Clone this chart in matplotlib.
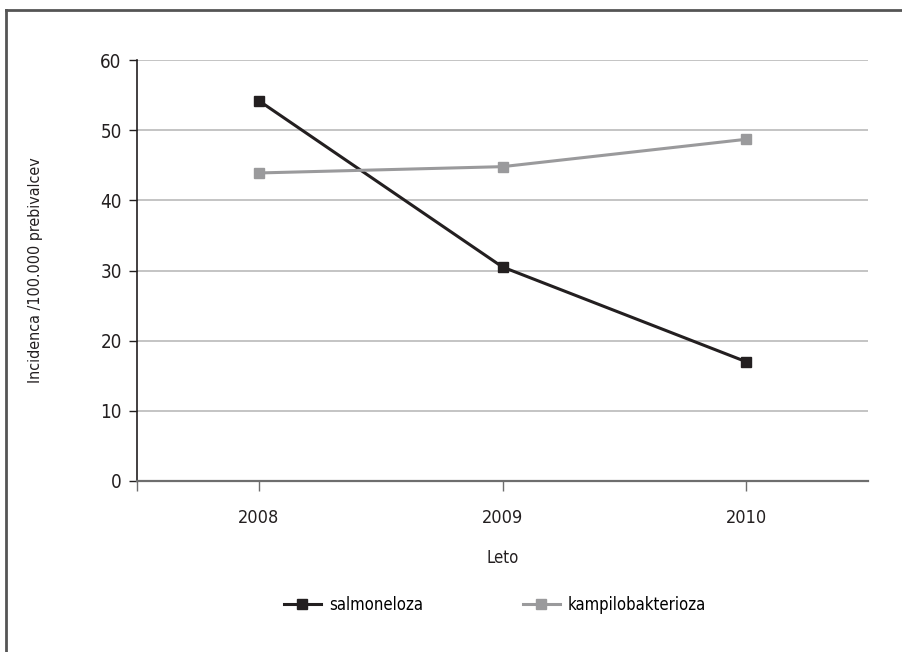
import matplotlib

matplotlib.use("Agg")
import matplotlib.pyplot as plt
from matplotlib.lines import Line2D

plt.rcParams["font.family"] = ["DejaVu Sans"]
plt.rcParams["font.stretch"] = "condensed"

years = ["2008", "2009", "2010"]
salmoneloza = [54.2, 30.5, 17.0]
kampilobakterioza = [43.9, 44.8, 48.7]
y_ticks = [0, 10, 20, 30, 40, 50, 60]

W, H = 902, 652
fig = plt.figure(figsize=(W / 100, H / 100), dpi=100)
ax = fig.add_axes([137 / W, (H - 481) / H, (868 - 137) / W, (481 - 60) / H])

x = list(range(len(years)))
ax.plot(x, salmoneloza, color="#231f20", linewidth=2.2, marker="s",
        markersize=7.5, label="salmoneloza", zorder=3)
ax.plot(x, kampilobakterioza, color="#9a9a9c", linewidth=2.2, marker="s",
        markersize=7.5, label="kampilobakterioza", zorder=3)

ax.set_xlim(-0.5, len(years) - 0.5)
ax.set_ylim(0, 60)
ax.set_yticks(y_ticks)
ax.set_xticks(x)
ax.set_xticklabels(years)
ax.set_xticks([-0.5], minor=True)
ax.grid(axis="y", color="#c4c4c4", linewidth=1.4)
ax.set_axisbelow(True)

for side in ("top", "right"):
    ax.spines[side].set_visible(False)
ax.spines["left"].set_color("#231f20")
ax.spines["left"].set_linewidth(1.2)
ax.spines["bottom"].set_color("#6e6e6e")
ax.spines["bottom"].set_linewidth(1.6)

ax.tick_params(axis="y", direction="out", length=6, width=1.0, color="#231f20",
               labelsize=13.5, pad=5, labelcolor="#231f20")
ax.tick_params(axis="x", which="both", direction="out", length=7, width=1.0,
               color="#6e6e6e", labelsize=13, pad=13, labelcolor="#231f20")

ax.set_xlabel("Leto", fontsize=12, color="#231f20", labelpad=16)
ax.set_ylabel("Incidenca /100.000 prebivalcev", fontsize=11.5, color="#231f20", labelpad=41)

handles = [
    Line2D([], [], color="#231f20", linewidth=2.2, marker="s", markersize=7),
    Line2D([], [], color="#9a9a9c", linewidth=2.2, marker="s", markersize=7),
]
fig.legend(handles, ["salmoneloza", "kampilobakterioza"], loc="center",
           bbox_to_anchor=(495 / W, 1 - 605 / H), ncol=2, frameon=False,
           fontsize=12, handlelength=2.2, handletextpad=0.5, columnspacing=6)

# frame lines along the left and top edges
fig.add_artist(Line2D([6 / W, 6 / W], [0, 1 - 10 / H], color="#555555",
                      linewidth=2, transform=fig.transFigure))
fig.add_artist(Line2D([6 / W, 1], [1 - 10 / H, 1 - 10 / H], color="#555555",
                      linewidth=2, transform=fig.transFigure))

fig.savefig("out.png", dpi=100)
